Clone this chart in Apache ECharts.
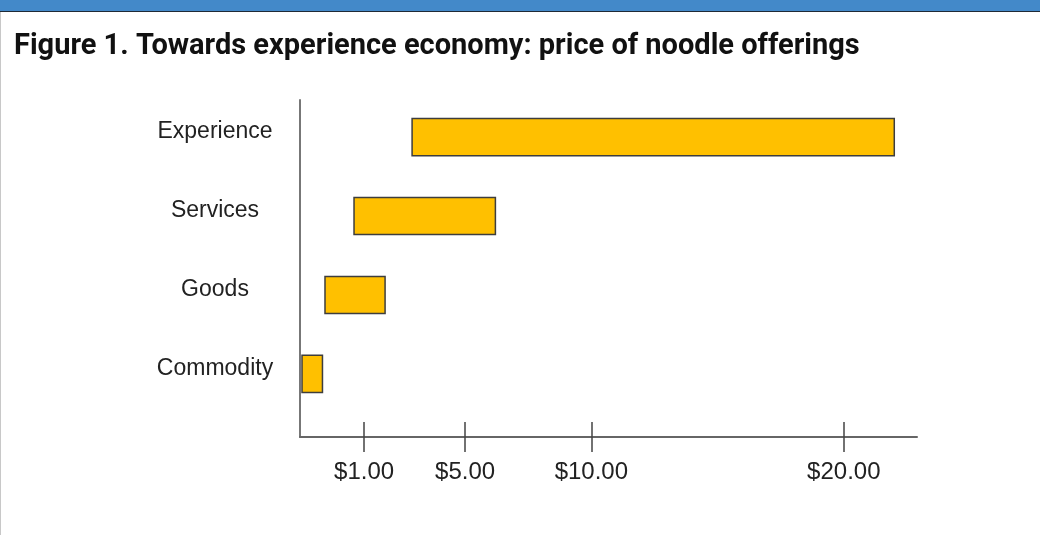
<!DOCTYPE html>
<html>
<head>
<meta charset="utf-8">
<script src="https://cdn.jsdelivr.net/npm/echarts@6/dist/echarts.min.js"></script>
<style>
  body { margin: 0; background: #fff; }
  #topBar {
    position: absolute; left: 0; top: 0; width: 1040px; height: 11px;
    background: #4389c9; border-bottom: 1px solid #1f2a36;
  }
  #leftLine {
    position: absolute; left: 0; top: 12px; width: 1px; height: 523px; background: #c8c8c8;
  }
  #chart { position: absolute; left: 0; top: 0; width: 1040px; height: 535px; }
</style>
</head>
<body>
<div id="chart"></div>
<div id="topBar"></div>
<div id="leftLine"></div>
<script>
// categories from bottom to top
const categories = ['Commodity', 'Goods', 'Services', 'Experience']
// price range of each offering (dollars)
const priceLow = [-1.46, -0.55, 0.6, 2.9]
const priceHigh = [-0.65, 1.83, 6.2, 22.0]
// tick labels on the price axis
const priceTicks = [1, 5, 10, 20]

let data = categories.map((name, i) => [i, priceLow[i], priceHigh[i]])

const xMin = -1.54
const xMax = 22.9

let myChart = echarts.init(document.getElementById('chart'))

myChart.setOption({
  animation: false,
  title: {
    text: 'Figure 1. Towards experience economy: price of noodle offerings',
    left: 9,
    top: 27,
    textStyle: {
      color: '#111',
      fontFamily: 'Roboto',
      fontWeight: 'bold',
      fontSize: 29,
    },
  },
  grid: {
    left: 300,
    right: 123,
    top: 100,
    bottom: 98,
  },
  xAxis: [
    {
      type: 'value',
      position: 'bottom',
      min: xMin,
      max: xMax,
      splitLine: { show: false },
      axisLine: { show: true, onZero: false, lineStyle: { color: '#666', width: 2 } },
      axisTick: {
        show: true,
        length: 15,
        customValues: priceTicks,
        lineStyle: { color: '#444', width: 1.5 },
      },
      axisLabel: {
        customValues: priceTicks,
        margin: 23,
        color: '#222',
        fontFamily: 'Liberation Sans',
        fontSize: 24,
        formatter: (v) => '$' + v.toFixed(2),
      },
    },
    {
      // second copy only for the upper half of the crossing ticks
      type: 'value',
      position: 'bottom',
      min: xMin,
      max: xMax,
      splitLine: { show: false },
      axisLine: { show: false, onZero: false },
      axisTick: {
        show: true,
        inside: true,
        length: 15,
        customValues: priceTicks,
        lineStyle: { color: '#444', width: 1.5 },
      },
      axisLabel: { show: false },
    },
  ],
  yAxis: {
    type: 'value',
    min: -0.8,
    max: 3.47,
    splitLine: { show: false },
    axisLine: { show: true, onZero: false, lineStyle: { color: '#777', width: 2 } },
    axisTick: { show: false },
    axisLabel: {
      customValues: [0, 1, 2, 3],
      align: 'center',
      verticalAlign: 'bottom',
      lineHeight: 10,
      margin: 85,
      color: '#222',
      fontFamily: 'Liberation Sans',
      fontSize: 23,
      formatter: (v) => categories[v],
    },
  },
  series: [
    {
      type: 'custom',
      encode: { x: [1, 2], y: 0 },
      renderItem: function (params, api) {
        let start = api.coord([api.value(1), api.value(0)])
        let end = api.coord([api.value(2), api.value(0)])
        let h = api.size([0, 0.47])[1]
        return {
          type: 'rect',
          shape: {
            x: start[0],
            y: start[1] - h / 2,
            width: end[0] - start[0],
            height: h,
          },
          style: {
            fill: '#ffc000',
            stroke: '#3d3d3d',
            lineWidth: 1.5,
          },
        }
      },
      data: data,
    },
  ],
})
</script>
</body>
</html>
